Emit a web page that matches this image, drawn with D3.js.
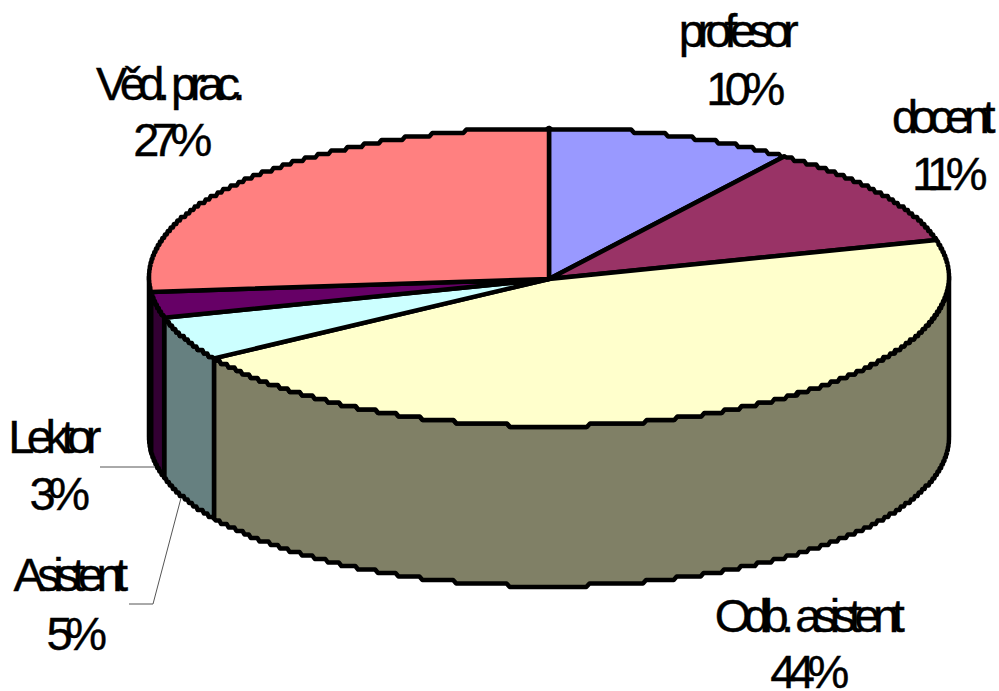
<!DOCTYPE html>
<html>
<head>
<meta charset="utf-8">
<script src="https://cdn.jsdelivr.net/npm/d3@7"></script>
<style>
html,body{margin:0;padding:0;background:#fff;}
text{font-family:"Liberation Sans",Arial,sans-serif;font-size:47px;letter-spacing:-7.5px;word-spacing:3px;fill:#000;stroke:#000;stroke-width:.4px;text-anchor:middle;}
</style>
</head>
<body>
<svg id="chart" width="999" height="691"></svg>
<script>
let categories = ["profesor","docent","Odb. asistent","Asistent","Lektor","Věd. prac."];
let values = [10,11,44.8,4.8,2.8,26.6];
let percentLabels = ["10%","11%","44%","5%","3%","27%"];
let topColors = ["#9999ff","#993366","#ffffcc","#ccffff","#660066","#ff8080"];
let wallColors = ["#4d4d80","#4d1a33","#808066","#668080","#330033","#804040"];
// label anchor per category: name x, name baseline, percent x, percent baseline
let labelPos = [[735,47,742,105],[940,133,946,190],[806,632,806,688],[67,591,73,650],[51,453,56,510],[167,100,169,156]];

let width = 999, height = 691,
    cx = 549, cy = 277, rx = 400, ry = 149, depth = 160,
    svg = d3.select("#chart"),
    xScale = d3.scaleLinear([-1,1],[cx-rx,cx+rx]),
    yScale = d3.scaleLinear([-1,1],[cy+ry,cy-ry]);

// the original rim is stair-stepped, so snap y to a small grid
function rim(a,dy){
    let x = xScale(Math.sin(a)), y = yScale(Math.cos(a));
    return [x, Math.round(y/3.5)*3.5+dy];
}
function exact(a,dy){
    return [xScale(Math.sin(a)), yScale(Math.cos(a))+dy];
}
function rimPoints(a0,a1,dy){
    let n = Math.max(2,Math.ceil(Math.abs(a1-a0)/0.008)), pts = [exact(a0,dy)];
    for(let i=1;i<n;i++) pts.push(rim(a0+(a1-a0)*i/n,dy));
    pts.push(exact(a1,dy));
    return pts;
}

let line = d3.line();
let arcs = d3.pie().sort(null).value(function(d){return d;})(values);
let g = svg.append("g").attr("stroke","#000").attr("stroke-width",4.5).attr("stroke-linejoin","round");

// walls: only the front half of the rim shows
arcs.forEach(function(d,i){
    let a0 = Math.max(d.startAngle,Math.PI/2), a1 = Math.min(d.endAngle,Math.PI*1.5);
    if(a1<=a0) return;
    let pts = rimPoints(a0,a1,0).concat(rimPoints(a1,a0,depth));
    g.append("path").attr("d",line(pts)+"Z").attr("fill",wallColors[i]);
});

// top faces
arcs.forEach(function(d,i){
    let pts = [[cx,cy+2]].concat(rimPoints(d.startAngle,d.endAngle,0));
    g.append("path").attr("d",line(pts)+"Z").attr("fill",topColors[i]);
});

// leader lines
let leaders = svg.append("g").attr("fill","none").attr("stroke","#555").attr("stroke-width",1);
leaders.append("path").attr("d",line([[100,467],[155,467]]));
leaders.append("path").attr("d",line([[129,604],[153,604],[181,498]]));

categories.forEach(function(c,i){
    let p = labelPos[i];
    svg.append("text").attr("x",p[0]).attr("y",p[1]).text(c);
    svg.append("text").attr("x",p[2]).attr("y",p[3]).text(percentLabels[i]);
});
</script>
</body>
</html>
